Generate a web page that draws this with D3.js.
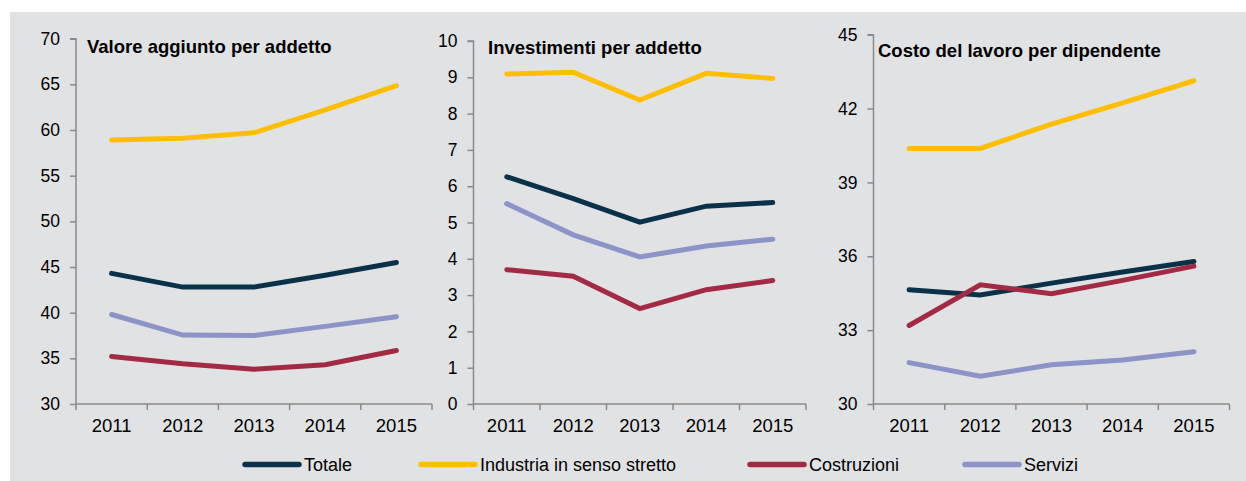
<!DOCTYPE html>
<html>
<head>
<meta charset="utf-8">
<script src="https://cdn.jsdelivr.net/npm/d3@7"></script>
<style>
  html, body { margin: 0; padding: 0; background: #ffffff; }
  svg { display: block; }
  text { font-family: "Liberation Sans", Arial, sans-serif; fill: #000; }
</style>
</head>
<body>
<svg id="chart" width="1246" height="481"></svg>
<script>
// Anni sull'asse orizzontale
const years = ["2011", "2012", "2013", "2014", "2015"];

// Serie e colori
const seriesNames = ["Totale", "Industria in senso stretto", "Costruzioni", "Servizi"];
const seriesColors = ["#0b3148", "#ffbe00", "#a32a45", "#8b93c7"];

// Valore aggiunto per addetto (migliaia di euro)
const vaTotale      = [44.3, 42.8, 42.8, 44.1, 45.5];
const vaIndustria   = [58.9, 59.1, 59.7, 62.2, 64.85];
const vaCostruzioni = [35.2, 34.4, 33.8, 34.3, 35.85];
const vaServizi     = [39.8, 37.55, 37.5, 38.5, 39.55];

// Investimenti per addetto
const invTotale      = [6.26, 5.66, 5.01, 5.45, 5.55];
const invIndustria   = [9.09, 9.14, 8.37, 9.11, 8.97];
const invCostruzioni = [3.70, 3.52, 2.63, 3.15, 3.40];
const invServizi     = [5.52, 4.66, 4.05, 4.35, 4.54];

// Costo del lavoro per dipendente
const clTotale      = [34.64, 34.43, 34.91, 35.36, 35.79];
const clIndustria   = [40.38, 40.38, 41.37, 42.23, 43.13];
const clCostruzioni = [33.19, 34.84, 34.48, 35.02, 35.60];
const clServizi     = [31.68, 31.13, 31.59, 31.79, 32.12];

// Tick dell'asse verticale per pannello
const vaTicks  = [30, 35, 40, 45, 50, 55, 60, 65, 70];
const invTicks = [0, 1, 2, 3, 4, 5, 6, 7, 8, 9, 10];
const clTicks  = [30, 33, 36, 39, 42, 45];

const panels = [
  { title: "Valore aggiunto per addetto", ticks: vaTicks,
    series: [vaTotale, vaIndustria, vaCostruzioni, vaServizi],
    x0: 76, x1: 432, top: 38.7, bottom: 404, titleX: 87, titleY: 52.5 },
  { title: "Investimenti per addetto", ticks: invTicks,
    series: [invTotale, invIndustria, invCostruzioni, invServizi],
    x0: 473.5, x1: 806, top: 41, bottom: 404, titleX: 488, titleY: 53.5 },
  { title: "Costo del lavoro per dipendente", ticks: clTicks,
    series: [clTotale, clIndustria, clCostruzioni, clServizi],
    x0: 873.5, x1: 1229.5, top: 34.7, bottom: 404, titleX: 878, titleY: 56.5 }
];

const svg = d3.select("#chart");

// Sfondo grigio
svg.append("rect")
  .attr("x", 10).attr("y", 12)
  .attr("width", 1236).attr("height", 469)
  .attr("fill", "#e1e2e4");

const axisColor = "#8a8a8a";
const fontStack = '"Liberation Sans", Arial, sans-serif';

panels.forEach(p => {
  const g = svg.append("g");
  const x = d3.scaleBand().domain(years).range([p.x0, p.x1]);
  const y = d3.scaleLinear()
    .domain([p.ticks[0], p.ticks[p.ticks.length - 1]])
    .range([p.bottom, p.top]);

  // Asse Y
  const yAxis = g.append("g")
    .attr("transform", `translate(${p.x0},0)`)
    .call(d3.axisLeft(y).tickValues(p.ticks).tickSize(6).tickPadding(10).tickFormat(d3.format("d")));
  yAxis.select(".domain").attr("stroke", axisColor).attr("stroke-width", 1.5).attr("d", `M-6,${p.top}H0V${p.bottom}`);
  yAxis.selectAll(".tick line").attr("stroke", axisColor).attr("stroke-width", 1.5);
  yAxis.selectAll(".tick text").attr("font-size", 17.5).attr("fill", "#000")
    .style("font-family", fontStack);

  // Asse X
  const xAxis = g.append("g")
    .attr("transform", `translate(0,${p.bottom})`)
    .call(d3.axisBottom(x).tickSize(0).tickPadding(15));
  xAxis.select(".domain").attr("stroke", axisColor).attr("stroke-width", 1.5).attr("d", `M${p.x0},0H${p.x1}`);
  xAxis.selectAll(".tick text").attr("font-size", 18.5).attr("fill", "#000")
    .style("font-family", fontStack);

  // Tacche di separazione tra gli anni
  const edges = years.map(yr => x(yr)).concat([p.x1]);
  g.selectAll(".xsep").data(edges).enter().append("line")
    .attr("x1", d => d).attr("x2", d => d)
    .attr("y1", p.bottom).attr("y2", p.bottom + 6)
    .attr("stroke", axisColor).attr("stroke-width", 1.5);

  // Linee delle serie
  const line = d3.line()
    .x((d, i) => x(years[i]) + x.bandwidth() / 2)
    .y(d => y(d));

  p.series.forEach((vals, si) => {
    g.append("path")
      .datum(vals)
      .attr("d", line)
      .attr("fill", "none")
      .attr("stroke", seriesColors[si])
      .attr("stroke-width", 5)
      .attr("stroke-linecap", "round")
      .attr("stroke-linejoin", "miter");
  });

  // Titolo
  g.append("text")
    .attr("x", p.titleX).attr("y", p.titleY)
    .attr("font-size", 18.5).attr("font-weight", "bold")
    .text(p.title);
});

// Legenda
const legendX = [245, 421, 750, 965];
const legend = svg.append("g");
seriesNames.forEach((name, i) => {
  legend.append("line")
    .attr("x1", legendX[i]).attr("x2", legendX[i] + 54)
    .attr("y1", 464.5).attr("y2", 464.5)
    .attr("stroke", seriesColors[i])
    .attr("stroke-width", 5.5)
    .attr("stroke-linecap", "round");
  legend.append("text")
    .attr("x", legendX[i] + 59).attr("y", 471)
    .attr("font-size", 18)
    .text(name);
});
</script>
</body>
</html>
